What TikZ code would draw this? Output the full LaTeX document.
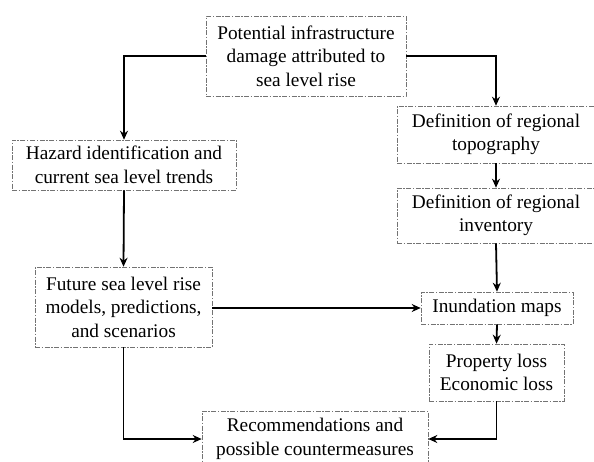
\documentclass[tikz,border=0pt]{standalone}
\usepackage{fontspec}
\setmainfont{Liberation Serif}
\usetikzlibrary{arrows.meta}
\begin{document}
\begin{tikzpicture}[x=1pt,y=-1pt,
  box/.style={draw=black!55, line width=0.6pt,
    dash pattern=on 5pt off 1.5pt on 1.5pt off 1.5pt,
    inner sep=0pt, align=center,
    font=\fontsize{19.3}{23.5}\selectfont},
  conn/.style={line width=1.8pt, -{Stealth[length=9pt,width=8pt]}}]
\useasboundingbox (0,0) rectangle (594,461);
\node[box, minimum width=200pt, minimum height=80pt] (top) at (306,56)
  {Potential infrastructure\\damage attributed to\\sea level rise};
\node[box, minimum width=224pt, minimum height=50pt] (haz) at (124,165)
  {Hazard identification and\\current sea level trends};
\node[box, minimum width=177pt, minimum height=80pt] (fut) at (123.5,307)
  {Future sea level rise\\models, predictions,\\and scenarios};
\node[box, minimum width=198pt, minimum height=57pt] (topo) at (496,134.5)
  {Definition of regional\\topography};
\node[box, minimum width=198pt, minimum height=55pt] (inv) at (496,215.5)
  {Definition of regional\\inventory};
\node[box, minimum width=152pt, minimum height=32pt] (inund) at (497,308)
  {Inundation maps};
\node[box, minimum width=135pt, minimum height=57pt] (prop) at (496.5,372.5)
  {Property loss\\Economic loss};
\node[box, minimum width=226pt, minimum height=56pt] (rec) at (315,439)
  {Recommendations and\\possible countermeasures};
\draw[conn] (top.west) -| (haz.north);
\draw[conn] (top.east) -| (topo.north);
\draw[conn] (topo.south) -- (inv.north);
\draw[conn] (haz.south) -- (fut.north);
\draw[conn] (inv.south) -- (inund.north);
\draw[conn] (fut.east |- inund.west) -- (inund.west);
\draw[conn] (inund.south) -- (prop.north);
\draw[conn] (fut.south) |- (rec.west);
\draw[conn] (prop.south) |- (rec.east);
\end{tikzpicture}
\end{document}
